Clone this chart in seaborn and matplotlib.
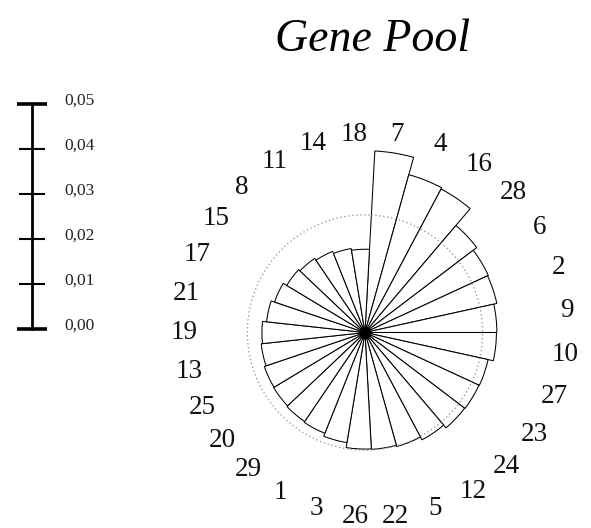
import numpy as np
import matplotlib
matplotlib.use("Agg")
import matplotlib.pyplot as plt
import matplotlib.transforms as mtransforms
import seaborn as sns

# ---- data (clockwise from the top) ----
categories = ["7", "4", "16", "28", "6", "2", "9", "10", "27", "23",
              "24", "12", "5", "22", "26", "3", "1", "29", "20", "25",
              "13", "19", "21", "17", "15", "8", "11", "14", "18"]
values = [0.0404, 0.0364, 0.0361, 0.0312, 0.0302, 0.0300, 0.0293, 0.0292, 0.0280, 0.0279,
          0.0278, 0.0270, 0.0263, 0.0260, 0.0259, 0.0248, 0.0241, 0.0239, 0.0237, 0.0236,
          0.0232, 0.0229, 0.0220, 0.0212, 0.0203, 0.0199, 0.0194, 0.0189, 0.0185]
scale_ticks = [0.00, 0.01, 0.02, 0.03, 0.04, 0.05]
scale_labels = ["0,00", "0,01", "0,02", "0,03", "0,04", "0,05"]
title = "Gene Pool"

sns.set_theme(style="white")
plt.rcParams["font.family"] = ["Liberation Serif", "DejaVu Serif"]

W, H, DPI = 591, 528, 100
fig = plt.figure(figsize=(W / DPI, H / DPI), dpi=DPI)
fig.patch.set_facecolor("white")

# ---- rose (polar bars) ----
RMAX = 0.05
RPX = 225.0          # pixels for RMAX
cx, cy = 365.0, 332.5
ax = fig.add_axes([(cx - RPX) / W, (H - cy - RPX) / H, 2 * RPX / W, 2 * RPX / H],
                  projection="polar")
ax.set_theta_zero_location("N", offset=-3.1)
ax.set_theta_direction(-1)
ax.set_ylim(0, RMAX)
ax.set_axis_off()

n = len(categories)
width = 2 * np.pi / n
theta = np.arange(n) * width
ax.bar(theta, values, width=width, align="edge", bottom=0,
       color="white", edgecolor="black", linewidth=0.75, zorder=2)

# mean circle (dotted)
mean_val = float(np.mean(values))
tt = np.linspace(0, 2 * np.pi, 400)
ax.plot(tt, np.full_like(tt, mean_val), color="#8a8a8a", lw=0.9,
        ls=(0, (1, 2.2)), zorder=3)

ax.scatter([0], [0], s=55, color="black", zorder=4)

# category labels
for i, lab in enumerate(categories):
    th = (i + 0.5) * width
    phi = th + np.deg2rad(3.1)
    r_px = 191.75 + 10.5 * np.sin(phi) + 7 * np.cos(phi)
    ax.text(th, r_px * RMAX / RPX, lab, ha="center", va="center",
            fontsize=19.5, color="#111111", clip_on=False)

# ---- scale bar ----
y0, y1 = 329.0, 104.0
ax2 = fig.add_axes([31.7 / W, (H - y0) / H, 10 / W, (y0 - y1) / H])
ax2.set_ylim(scale_ticks[0], scale_ticks[-1])
ax2.set_xlim(0, 1)
ax2.set_facecolor("none")
for s in ["top", "right", "bottom"]:
    ax2.spines[s].set_visible(False)
ax2.spines["left"].set_linewidth(2.0)
ax2.spines["left"].set_color("black")
ax2.set_xticks([])
ax2.set_yticks(scale_ticks)
ax2.set_yticklabels(scale_labels)
ax2.tick_params(axis="y", left=True, right=False, labelleft=False, labelright=True,
                direction="inout", length=19, width=1.5, color="black",
                pad=7.0, labelsize=12.5, labelcolor="#222222")
ticks = ax2.yaxis.get_major_ticks()
for t in (ticks[0], ticks[-1]):
    t.tick1line.set_markersize(22)
    t.tick1line.set_markeredgewidth(2.6)
off = mtransforms.ScaledTranslation(0, 5 / DPI, fig.dpi_scale_trans)
for lab in ax2.get_yticklabels():
    lab.set_transform(lab.get_transform() + off)

# ---- title ----
fig.text(372.5 / W, 1 - 50.7 / H, title, ha="center", va="baseline",
         fontsize=33, style="italic", color="black")

fig.savefig("out.png", dpi=DPI, facecolor="white")
